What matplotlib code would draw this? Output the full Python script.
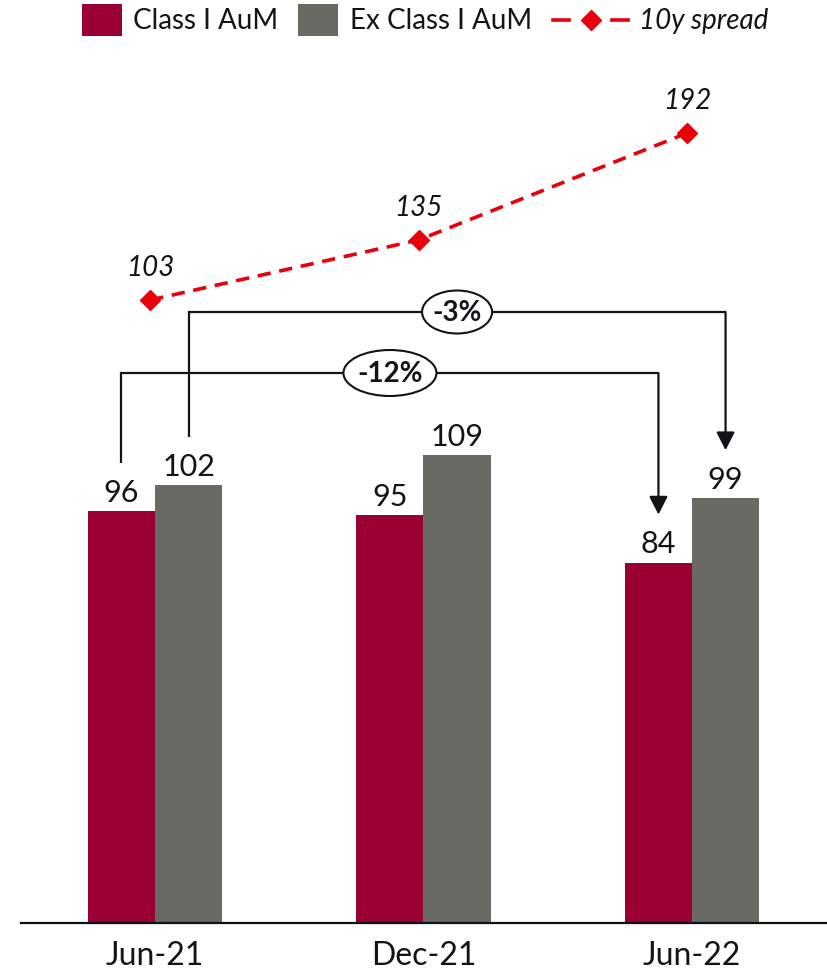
import matplotlib
matplotlib.use("Agg")
import matplotlib.pyplot as plt
from matplotlib.patches import Rectangle, Ellipse
from matplotlib.lines import Line2D

plt.rcParams['font.family'] = ['Lato', 'DejaVu Sans']

categories = ["Jun-21", "Dec-21", "Jun-22"]
class_i = [96, 95, 84]
ex_class_i = [102, 109, 99]
spread = [103, 135, 192]
chg_class_i = "-12%"
chg_ex_class_i = "-3%"

RED = "#9B0033"
GREY = "#696A64"
LINE_RED = "#E8000B"
TXT = "#111418"

W, H = 828, 970
fig = plt.figure(figsize=(W / 100, H / 100), dpi=100)
ax = fig.add_axes([20.75 / W, (H - 924) / H, 805.5 / W, 864 / H])
ax.set_xlim(-0.5, 2.5)
ax.set_ylim(0, 864 / 4.29)

x = list(range(len(categories)))
bw = 0.25
xr = [i - bw / 2 for i in x]
xg = [i + bw / 2 for i in x]
ax.bar(xr, class_i, width=bw, color=RED, zorder=2)
ax.bar(xg, ex_class_i, width=bw, color=GREY, zorder=2)

for xi, v in zip(xr, class_i):
    ax.annotate(str(v), (xi, v), xytext=(0, 7.5), textcoords="offset points",
                ha="center", va="baseline", fontsize=22, color=TXT)
for xi, v in zip(xg, ex_class_i):
    ax.annotate(str(v), (xi, v), xytext=(0, 7.5), textcoords="offset points",
                ha="center", va="baseline", fontsize=22, color=TXT)

for s in ["top", "right", "left"]:
    ax.spines[s].set_visible(False)
ax.spines["bottom"].set_linewidth(1.6)
ax.spines["bottom"].set_color("#111111")
ax.set_yticks([])
ax.set_xticks(x)
ax.set_xticklabels(categories, fontsize=23, color=TXT)
ax.tick_params(axis="x", length=0, pad=12)

# secondary axis for spread
ax2 = ax.twinx()
ax2.set_ylim(103 - (924 - 301) / 1.876, 103 + (301 - 60) / 1.876)
ax2.set_axis_off()
xs = [i - 0.018 for i in x]
ax2.plot(xs, spread, color=LINE_RED, lw=2.6, linestyle=(0, (3.7, 2.4)),
         marker="D", ms=10, mfc=LINE_RED, mec=LINE_RED, zorder=3)
for xi, v in zip(xs, spread):
    ax2.annotate(str(v), (xi, v), xytext=(0, 18), textcoords="offset points",
                 ha="center", va="baseline", fontsize=20, style="italic", color=TXT)

# brackets
def bracket(x0, y0, x1, y1, ytop, label, ew, eh):
    ax.plot([x0, x0, x1], [y0, ytop, ytop], color=TXT, lw=1.6, zorder=4,
            solid_capstyle="butt", solid_joinstyle="miter")
    ax.annotate("", xy=(x1, y1), xytext=(x1, ytop),
                arrowprops=dict(arrowstyle="-|>,head_length=0.55,head_width=0.28",
                                mutation_scale=20, color=TXT, lw=1.6,
                                shrinkA=0, shrinkB=0), zorder=4)
    xm = (x0 + x1) / 2
    ax.add_patch(Ellipse((xm, ytop), ew / 268.5, eh / 4.29, facecolor="white",
                         edgecolor=TXT, lw=1.5, zorder=5))
    ax.text(xm, ytop, label, ha="center", va="center", fontsize=20,
            fontweight="bold", color=TXT, zorder=6)

off = 11.2
bracket(xr[0], class_i[0] + off, xr[2], class_i[2] + off, (924 - 374) / 4.29,
        chg_class_i, 93, 46)
bracket(xg[0], ex_class_i[0] + off, xg[2], ex_class_i[2] + off, (924 - 313) / 4.29,
        chg_ex_class_i, 70, 43)

# legend (manual, figure pixel coords)
def fx(px):
    return px / W

def fy(py):
    return 1 - py / H

fig.patches.append(Rectangle((fx(82), fy(37)), 40 / W, 32 / H, transform=fig.transFigure,
                             facecolor=RED, edgecolor="none"))
fig.text(fx(133), fy(21), "Class I AuM", fontsize=20, va="center", ha="left", color=TXT)
fig.patches.append(Rectangle((fx(298), fy(37)), 40 / W, 32 / H, transform=fig.transFigure,
                             facecolor=GREY, edgecolor="none"))
fig.text(fx(350), fy(21), "Ex Class I AuM", fontsize=20, va="center", ha="left", color=TXT)
fig.lines.append(Line2D([fx(553), fx(569)], [fy(21), fy(21)], transform=fig.transFigure,
                        color=LINE_RED, lw=2.6))
fig.lines.append(Line2D([fx(612), fx(628)], [fy(21), fy(21)], transform=fig.transFigure,
                        color=LINE_RED, lw=2.6))
fig.lines.append(Line2D([fx(591)], [fy(21)], transform=fig.transFigure, marker="D",
                        ms=10, color=LINE_RED, lw=0))
fig.text(fx(639), fy(21), "10y spread", fontsize=20, style="italic", va="center",
         ha="left", color=TXT)

fig.savefig("out.png", dpi=100, facecolor="white")
